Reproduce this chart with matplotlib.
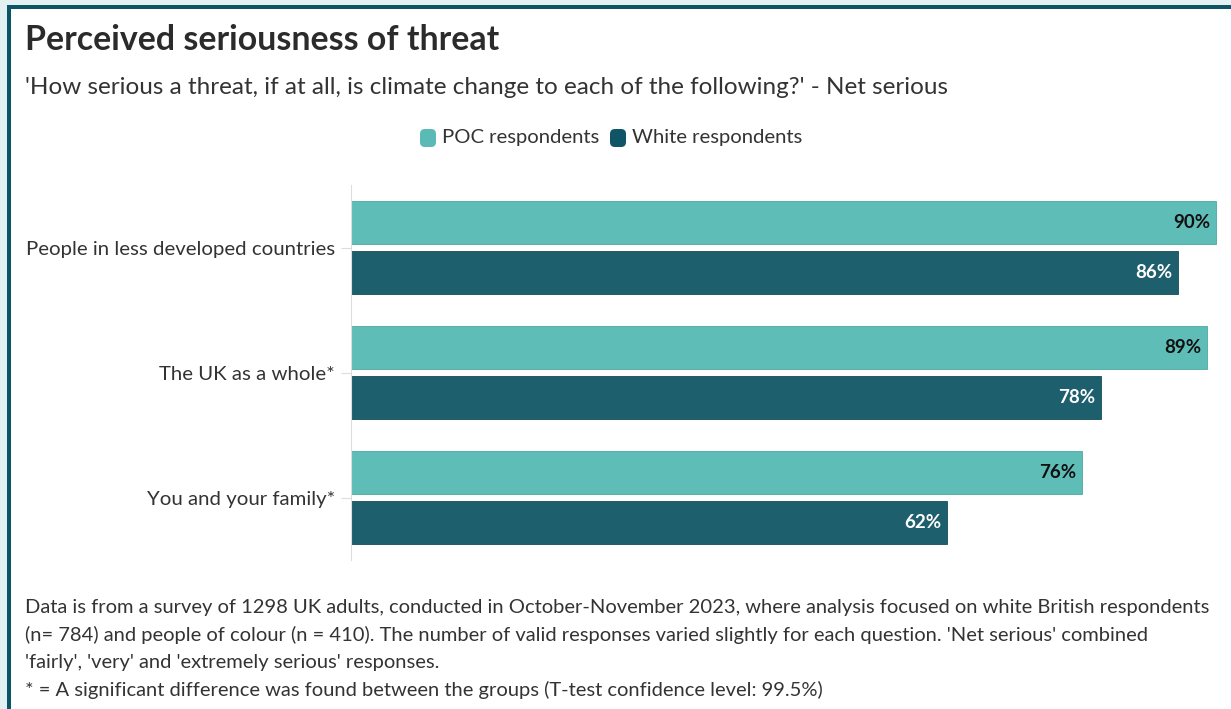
import matplotlib
matplotlib.use("Agg")
import numpy as np
import matplotlib.pyplot as plt
from matplotlib.patches import Rectangle, FancyBboxPatch

categories = ["People in less developed countries", "The UK as a whole*", "You and your family*"]
series_names = ["POC respondents", "White respondents"]
poc_values = [90, 89, 76]
white_values = [86, 78, 62]

title = "Perceived seriousness of threat"
subtitle = "'How serious a threat, if at all, is climate change to each of the following?' - Net serious"
footnote = [
    "Data is from a survey of 1298 UK adults, conducted in October-November 2023, where analysis focused on white British respondents",
    "(n= 784) and people of colour (n = 410). The number of valid responses varied slightly for each question. 'Net serious' combined",
    "'fairly', 'very' and 'extremely serious' responses.",
    "* = A significant difference was found between the groups (T-test confidence level: 99.5%)",
]

poc_color = "#5fbdb8"
white_color = "#1e5f6e"
text_color = "#333333"
font = ["Lato", "DejaVu Sans"]
plt.rcParams['font.family'] = font

W, H = 1231, 709
fig = plt.figure(figsize=(W / 100, H / 100), dpi=100)
fig.patch.set_facecolor("white")

def px(x, y):
    # pixel from top-left -> figure fraction
    return x / W, 1 - y / H

# outer frame: light band + dark border on top and left
fig.add_artist(Rectangle((0, 1 - 5 / H), 1, 5 / H, transform=fig.transFigure, color="#e3f1f3", lw=0))
fig.add_artist(Rectangle((0, 0), 7 / W, 1, transform=fig.transFigure, color="#e3f1f3", lw=0))
fig.add_artist(Rectangle((7 / W, 1 - 9 / H), 1, 4 / H, transform=fig.transFigure, color="#0d5566", lw=0))
fig.add_artist(Rectangle((7 / W, 0), 4 / W, 1 - 5 / H, transform=fig.transFigure, color="#0d5566", lw=0))

ax = fig.add_axes([351 / W, (H - 560) / H, (1220 - 351) / W, 375 / H])
y = np.arange(len(categories))
h = 0.344
off = 0.2
ax.barh(y - off, poc_values, height=h, color=poc_color, edgecolor="#4aa9a4", linewidth=0.6)
ax.barh(y + off, white_values, height=h, color=white_color, edgecolor="#164c59", linewidth=0.6)
ax.set_xlim(0, 90.4)
ax.set_ylim(2.5, -0.5)

for i in range(len(categories)):
    ax.annotate(f"{poc_values[i]}%", (poc_values[i], y[i] - off), xytext=(-4, 0), textcoords="offset points",
                ha="right", va="center", fontsize=13.5, fontweight="bold", color="#111111")
    ax.annotate(f"{white_values[i]}%", (white_values[i], y[i] + off), xytext=(-4, 0), textcoords="offset points",
                ha="right", va="center", fontsize=13.5, fontweight="bold", color="white")

for s in ["top", "right", "bottom"]:
    ax.spines[s].set_visible(False)
ax.spines["left"].set_color("#dddddd")
ax.set_xticks([])
ax.set_yticks(y)
ax.set_yticklabels(categories, fontsize=14.7, color=text_color)
ax.tick_params(axis="y", length=7, color="#dddddd", pad=4.5)

# titles
fig.text(*px(25, 40), title, fontsize=24.4, fontweight="bold", color="#2b2b2b", va="center", ha="left")
fig.text(*px(25, 87), subtitle, fontsize=17.5, color=text_color, va="center", ha="left")

# legend
for lx, name, c in [(420, series_names[0], "#5bbab5"), (610, series_names[1], "#0f5566")]:
    fig.add_artist(FancyBboxPatch(((lx) / W, 1 - 147 / H), 16 / W, 18 / H, boxstyle="round,pad=0,rounding_size=0.004",
                                  transform=fig.transFigure, color=c, lw=0, mutation_aspect=W / H))
    fig.text(*px(lx + 22, 138), name, fontsize=14.6, color=text_color, va="center", ha="left")

for k, line in enumerate(footnote):
    fig.text(*px(25, 608 + k * 27.3), line, fontsize=14.5, color=text_color, va="center", ha="left")

fig.savefig("out.png", dpi=100)
